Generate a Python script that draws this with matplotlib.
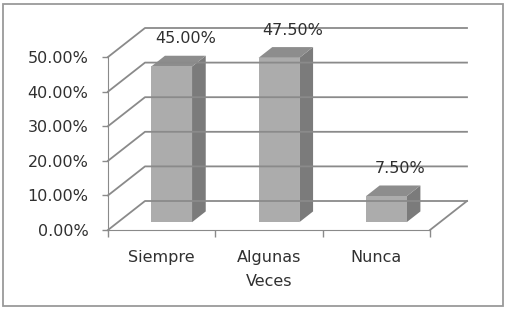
import numpy as np
import matplotlib
matplotlib.use("Agg")
import matplotlib.pyplot as plt
from matplotlib.patches import Polygon, Rectangle
from matplotlib.transforms import IdentityTransform, offset_copy

# datos
categorias = ["Siempre", "Algunas\nVeces", "Nunca"]
valores = [45.0, 47.5, 7.5]
etiquetas = ["45.00%", "47.50%", "7.50%"]
ticks_y = [0, 10, 20, 30, 40, 50]

W, H, DPI = 506, 310, 100
fig = plt.figure(figsize=(W / DPI, H / DPI), dpi=DPI)
fig.patch.set_facecolor("white")

# marco exterior del grafico
fig.add_artist(Rectangle((3 / W, 4 / H), 500 / W, 302 / H, transform=fig.transFigure,
                         fill=False, edgecolor="#9a9a9a", linewidth=1.3))

# plano frontal del grafico (ejes 2D)
ax = fig.add_axes([108 / W, 80 / H, 322 / W, 173 / H])
ax.set_xlim(-0.5, 2.5)
ax.set_ylim(0, 50)
ax.patch.set_alpha(0)
for s in ["top", "right"]:
    ax.spines[s].set_visible(False)
ax.spines["left"].set_color("#8a8a8a")
ax.spines["bottom"].set_color("#8a8a8a")
ax.set_yticks(ticks_y)
ax.set_yticklabels([f"{t:.2f}%" for t in ticks_y])
ax.tick_params(axis="y", length=4, width=1, color="#8a8a8a", pad=10,
               labelsize=11.5, labelcolor="#303030")
ax.set_xticks([-0.5, 0.5, 1.5, 2.5])
ax.set_xticklabels([])
ax.tick_params(axis="x", direction="out", length=5, width=1, color="#8a8a8a")

# profundidad en pixeles (derecha, arriba)
DX, DY = 37, 29


def P(x, y, d):
    px, py = ax.transData.transform((x, y))
    return (px + d * DX, py + d * DY)


gcol = "#8a8a8a"
xmin, xmax = ax.get_xlim()
for t in ticks_y:
    a, b, c = P(xmin, t, 0), P(xmin, t, 1), P(xmax, t, 1)
    fig.add_artist(plt.Line2D([a[0], b[0], c[0]], [a[1], b[1], c[1]],
                              transform=IdentityTransform(), color=gcol, lw=1.3))
# borde derecho del piso
a, b = P(xmax, 0, 0), P(xmax, 0, 1)
fig.add_artist(plt.Line2D([a[0], b[0]], [a[1], b[1]], transform=IdentityTransform(),
                          color=gcol, lw=1.3))

# barras 3D
w = 0.38
d0, d1 = 0.27, 0.64
for i, v in enumerate(valores):
    x0, x1 = i - w / 2, i + w / 2
    front = [P(x0, 0, d0), P(x1, 0, d0), P(x1, v, d0), P(x0, v, d0)]
    side = [P(x1, 0, d0), P(x1, 0, d1), P(x1, v, d1), P(x1, v, d0)]
    top = [P(x0, v, d0), P(x1, v, d0), P(x1, v, d1), P(x0, v, d1)]
    for pts, col in [(side, "#7b7b7b"), (top, "#8d8d8d"), (front, "#acacac")]:
        fig.add_artist(Polygon(pts, closed=True, transform=IdentityTransform(),
                               facecolor=col, edgecolor="none"))
    lx, ly = P(i, v, d1)
    fig.text(lx / W, (ly + 17) / H, etiquetas[i], ha="center", va="center",
             fontsize=11.5, color="#303030")

# etiquetas de categoria
tr = offset_copy(ax.transData, fig=fig, y=-20, units="dots")
for i, c in enumerate(categorias):
    ax.text(i, 0, c, transform=tr, ha="center", va="top", fontsize=11.5,
            color="#303030", linespacing=1.75, clip_on=False)

fig.savefig("out.png", dpi=DPI)
